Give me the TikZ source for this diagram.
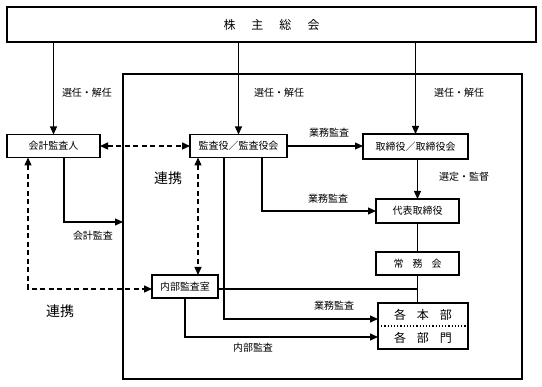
\documentclass[tikz,border=0pt]{standalone}
\usepackage{fontspec}
\setmainfont{Noto Sans CJK JP}
\usepackage{tikz}
\usetikzlibrary{arrows.meta, positioning, calc}

\begin{document}
\begin{tikzpicture}[
    x=1pt, y=-1pt,
    box/.style={rectangle, draw, line width=1.3pt, inner sep=0pt, outer sep=0pt,
                minimum height=23pt, font=\fontsize{10}{12}\selectfont},
    topbox/.style={rectangle, draw, line width=2.6pt, inner sep=0pt, outer sep=0pt,
                   minimum width=529pt, minimum height=35pt, font=\fontsize{12}{14}\selectfont},
    frame/.style={rectangle, draw, line width=1.6pt, inner sep=0pt, outer sep=0pt,
                  minimum width=399pt, minimum height=305pt},
    lbl/.style={font=\fontsize{10}{12}\selectfont, inner sep=0pt},
    biglbl/.style={font=\fontsize{14}{16}\selectfont, inner sep=0pt},
    arr/.style={-{Triangle[length=8pt,width=7pt]}, line width=1.2pt},
    link/.style={{Triangle[length=8pt,width=7pt]}-{Triangle[length=8pt,width=7pt]},
                 line width=1.4pt, dash pattern=on 5pt off 3.5pt},
    line/.style={line width=1.2pt},
]
\useasboundingbox (0,0) rectangle (542,387);

% Shareholders meeting and the company frame
\node[topbox] (top) at (271.5,24.5) {株\hspace{16pt}主\hspace{16pt}総\hspace{16pt}会};
\node[frame] (frame) at (322.5,226.5) {};

% Boxes
\node[box, minimum width=93pt] (kaikei) at (53.5,146) {会計監査人};
\node[box, minimum width=97pt] (kansa) at (238.5,146) {監査役／監査役会};
\node[box, minimum width=105pt, minimum height=25pt] (tori) at (415.5,146.5) {取締役／取締役会};
\node[box, minimum width=83pt, minimum height=24pt] (daihyo) at (417.5,211) {代表取締役};
\node[box, minimum width=83pt] (jomu) at (417.5,263.5) {常\hspace{9pt}務\hspace{9pt}会};
\node[box, minimum width=66pt] (naibu) at (185,286.5) {内部監査室};
\node[box, minimum width=90pt, minimum height=46pt] (kakubu) at (423,326) {};
\node[font=\fontsize{12}{14}\selectfont, inner sep=0pt] (honbu) at (423,314.5) {各\hspace{11pt}本\hspace{11pt}部};
\node[font=\fontsize{12}{14}\selectfont, inner sep=0pt] (bumon) at (423,337.5) {各\hspace{11pt}部\hspace{11pt}門};
\draw[dotted, line width=1.2pt] (kakubu.west) -- (kakubu.east);

% Labels
\node[lbl] (sen1) at (87,93) {選任・解任};
\node[lbl] (sen2) at (279,93) {選任・解任};
\node[lbl] (sen3) at (459,93) {選任・解任};
\node[lbl] (gyomu1) at (329,133) {業務監査};
\node[lbl] (sentei) at (464,177) {選定・監督};
\node[lbl] (gyomu2) at (328,199) {業務監査};
\node[lbl] (kaikeikansa) at (93,236) {会計監査};
\node[lbl] (gyomu3) at (334,306) {業務監査};
\node[lbl] (naibukansa) at (253,348) {内部監査};
\node[biglbl] (renkei1) at (168,178) {連携};
\node[biglbl] (renkei2) at (60,311) {連携};

% Appointment arrows
\foreach \n in {kaikei,kansa,tori} {
    \draw[arr] (top.south -| \n) -- (\n);
}

% Audit arrows
\draw[arr] (kansa) -- (kansa -| tori.west);
\draw[arr] (tori.south -| daihyo.north) -- (daihyo.north);
\draw[arr] ([xshift=23.5pt]kansa.south) |- (daihyo.west);
\draw[arr] ([xshift=-14.5pt]kansa.south) |- ([yshift=7pt]kakubu.west);
\draw[arr] (naibu.south) |- ([yshift=-11pt]kakubu.west);
\draw[arr] ([xshift=10.5pt]kaikei.south) |- ([yshift=4.5pt]frame.west);

% Management lines
\draw[line] (daihyo) -- (jomu);
\draw[line] (jomu.south) -- (jomu.south |- kakubu.north);
\draw[line] ([yshift=-2.5pt]naibu.east) -- ([yshift=-2.5pt]naibu.east -| jomu.south);

% Cooperation links
\draw[link] (kaikei) -- (kansa);
\draw[link] ([xshift=-40.5pt]kansa.south) -- ([xshift=-40.5pt]kansa.south |- naibu.north);
\draw[link] ([xshift=-25.5pt]kaikei.south) |- ([yshift=-2.5pt]naibu.west);

\end{tikzpicture}
\end{document}
